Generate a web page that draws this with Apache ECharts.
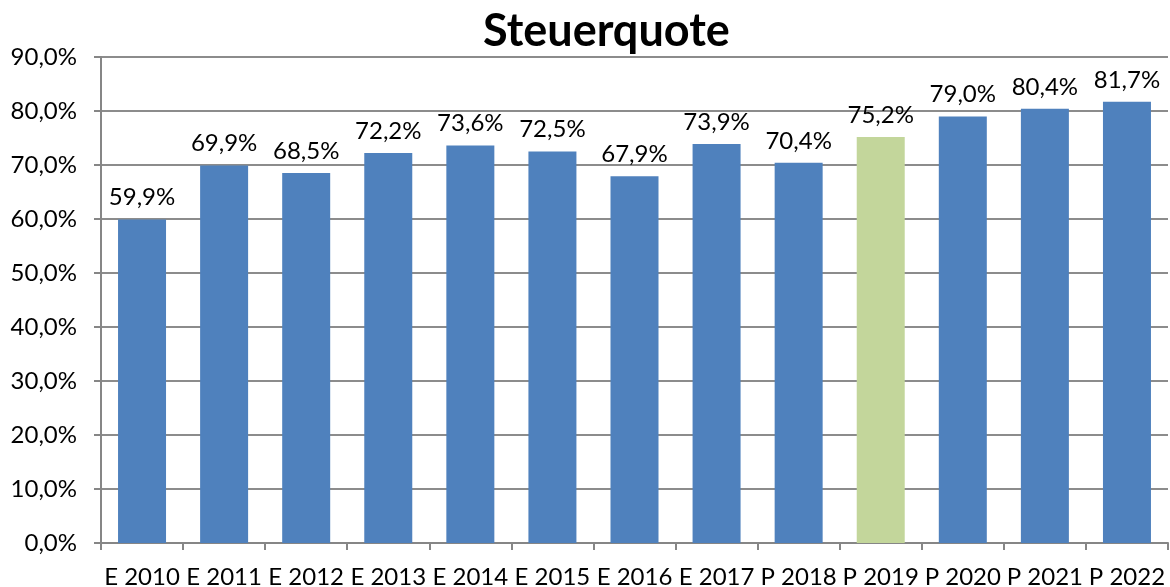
<!DOCTYPE html>
<html>
<head>
<meta charset="utf-8">
<script src="https://cdn.jsdelivr.net/npm/echarts@6/dist/echarts.min.js"></script>
<style>
  html, body { margin: 0; padding: 0; background: #fff; }
  #chart { width: 1170px; height: 587px; }
</style>
</head>
<body>
<div id="chart"></div>
<script>
/* Steuerquote bar chart */
const categories = ['E 2010', 'E 2011', 'E 2012', 'E 2013', 'E 2014', 'E 2015', 'E 2016',
    'E 2017', 'P 2018', 'P 2019', 'P 2020', 'P 2021', 'P 2022'];
const values = [59.9, 69.9, 68.5, 72.2, 73.6, 72.5, 67.9, 73.9, 70.4, 75.2, 79.0, 80.4, 81.7];
const highlighted = ['P 2019'];

const fmt = (v) => v.toFixed(1).replace('.', ',') + '%';
const font = "Lato, 'Open Sans', sans-serif";

let chartDom = document.getElementById('chart');
let myChart = echarts.init(chartDom);

let option = {
    animation: false,
    title: {
        text: 'Steuerquote',
        left: 478,
        top: 4,
        textStyle: { fontFamily: font, fontSize: 45, fontWeight: 'bold', color: '#000' },
    },
    grid: { left: 101, right: 2, top: 57, bottom: 44, outerBoundsMode: 'none' },
    xAxis: {
        type: 'category',
        data: categories,
        axisLine: { lineStyle: { color: '#868686', width: 2 } },
        axisTick: { show: true, length: 7, lineStyle: { color: '#868686', width: 2 } },
        axisLabel: { fontFamily: font, fontSize: 24, color: '#000', margin: 22, interval: 0 },
    },
    yAxis: {
        type: 'value',
        min: 0,
        max: 90,
        interval: 10,
        axisLine: { show: true, lineStyle: { color: '#868686', width: 2 } },
        axisTick: { show: true, length: 7, lineStyle: { color: '#868686', width: 2 } },
        splitLine: { lineStyle: { color: '#8c8c8c', width: 2 } },
        axisLabel: { fontFamily: font, fontSize: 24, color: '#000', margin: 24, formatter: fmt },
    },
    series: [
        {
            type: 'bar',
            barWidth: 48,
            data: values.map((v, i) => ({
                value: v,
                itemStyle: { color: highlighted.includes(categories[i]) ? '#C3D69B' : '#4F81BD' },
            })),
            label: {
                show: true,
                position: 'top',
                distance: 10,
                fontFamily: font,
                fontSize: 24,
                color: '#000',
                formatter: (p) => fmt(p.value),
            },
        },
    ],
};

option && myChart.setOption(option);
</script>
</body>
</html>
